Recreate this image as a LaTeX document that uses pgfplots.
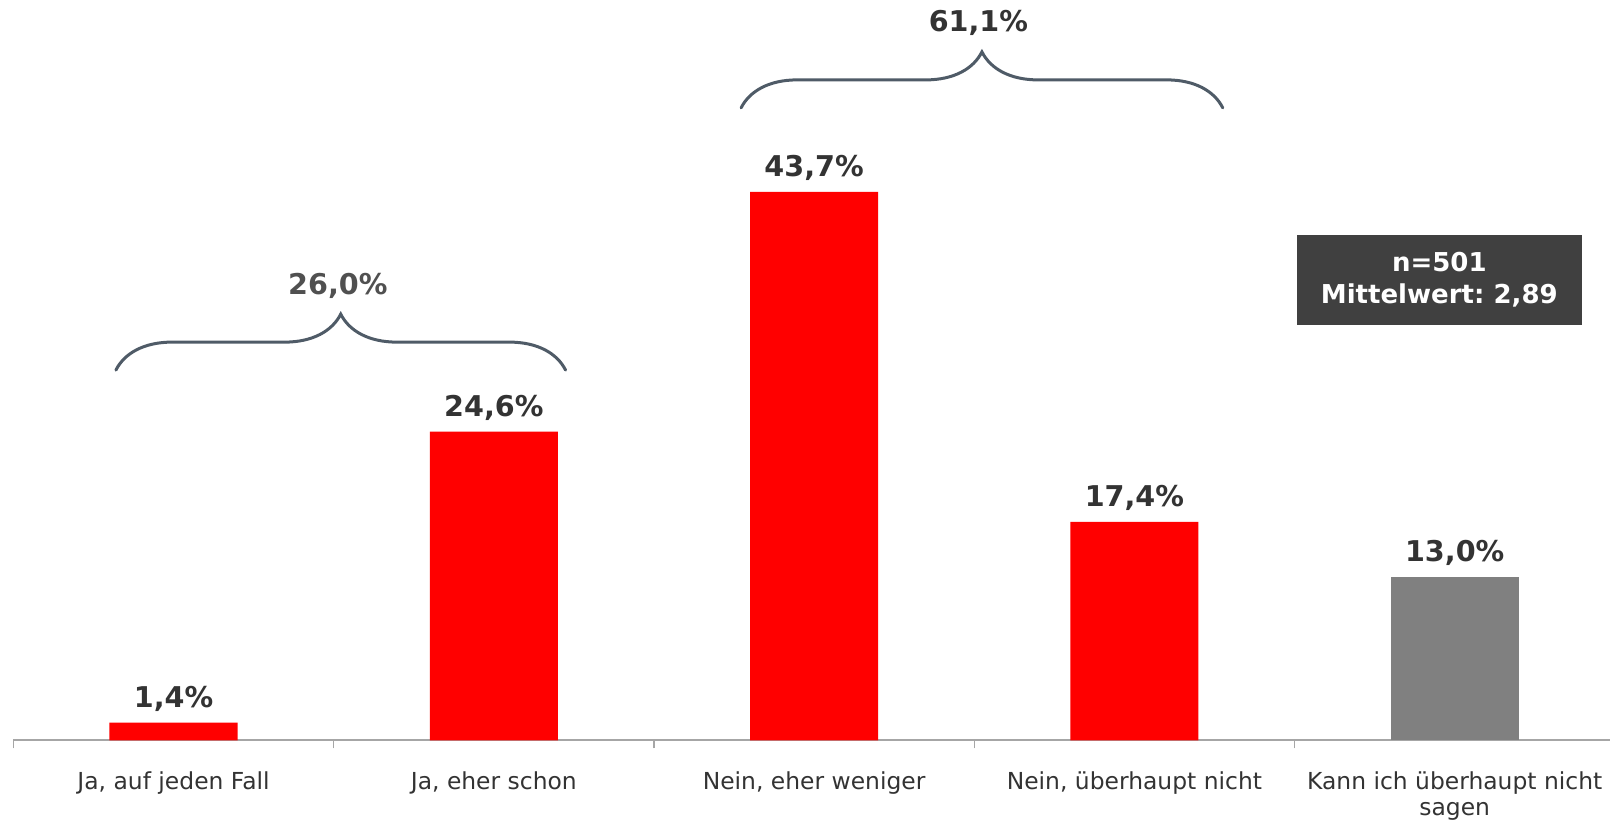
\documentclass[border=0pt]{standalone}
\usepackage{pgfplots}
\pgfplotsset{compat=1.18}
\usepackage{fontspec}
\setmainfont{DejaVu Sans}
\frenchspacing
\usetikzlibrary{decorations.pathreplacing}
\definecolor{barred}{HTML}{FF0000}
\definecolor{bargray}{HTML}{808080}
\definecolor{labeldark}{HTML}{333333}
\definecolor{bracelbl}{HTML}{505050}
\definecolor{bracecol}{HTML}{4F5B67}
\definecolor{boxfill}{HTML}{404040}
\definecolor{axisgray}{HTML}{A6A6A6}
\begin{document}
\begin{tikzpicture}
\begin{axis}[
  name=ax,
  scale only axis,
  width=798pt, height=370pt,
  xmin=-0.5, xmax=4.485,
  ymin=0, ymax=59,
  clip=false,
  hide y axis,
  axis x line*=bottom,
  x axis line style={-, draw=axisgray, line width=1pt},
  xtick={0,1,2,3,4},
  xticklabels={{Ja, auf jeden Fall},{Ja, eher schon},{Nein, eher weniger},{Nein, überhaupt nicht},{Kann ich überhaupt nicht\\sagen}},
  minor xtick={-0.5,0.5,1.5,2.5,3.5},
  major tick length=0pt,
  minor tick length=4pt,
  tick align=outside,
  minor tick style={draw=axisgray, line width=0.7pt},
  xticklabel style={font=\fontsize{11.7}{13}\selectfont, text=labeldark, align=center, anchor=north, yshift=-12pt},
  ybar,
  bar width=0.4,
  nodes near coords={\pgfmathprintnumber[fixed,fixed zerofill,precision=1,use comma,assume math mode=true]{\pgfplotspointmeta}\%},
  nodes near coords style={font=\bfseries\fontsize{14.3}{16}\selectfont, text=labeldark, anchor=base, yshift=7.7pt},
]
\addplot[fill=barred, draw=none, bar shift=0pt] coordinates {(0,1.4) (1,24.6) (2,43.7) (3,17.4)};
\addplot[fill=bargray, draw=none, bar shift=0pt] coordinates {(4,13.0)};

\draw[bracecol, line width=1.5pt, line cap=round, decorate, decoration={brace, amplitude=28pt, aspect=0.5}]
  (axis cs:-0.18,29.5) -- (axis cs:1.224,29.5);
\node[font=\bfseries\fontsize{14.3}{16}\selectfont, text=bracelbl] at (axis cs:0.513,36.25) {26,0\%};
\draw[bracecol, line width=1.5pt, line cap=round, decorate, decoration={brace, amplitude=28pt, aspect=0.5}]
  (axis cs:1.772,50.4) -- (axis cs:3.276,50.4);
\node[font=\bfseries\fontsize{14.3}{16}\selectfont, text=labeldark] at (axis cs:2.513,57.2) {61,1\%};

\node[fill=boxfill, text=white, font=\bfseries\fontsize{13}{16}\selectfont, align=center,
  minimum width=142.7pt, minimum height=44.7pt, inner sep=0pt]
  at (axis cs:3.952,36.7) {n=501\\Mittelwert: 2,89};
\end{axis}
\pgfresetboundingbox
\path[use as bounding box] ([xshift=-6.7pt,yshift=-40.5pt]ax.south west) rectangle (ax.north east);
\end{tikzpicture}
\end{document}
